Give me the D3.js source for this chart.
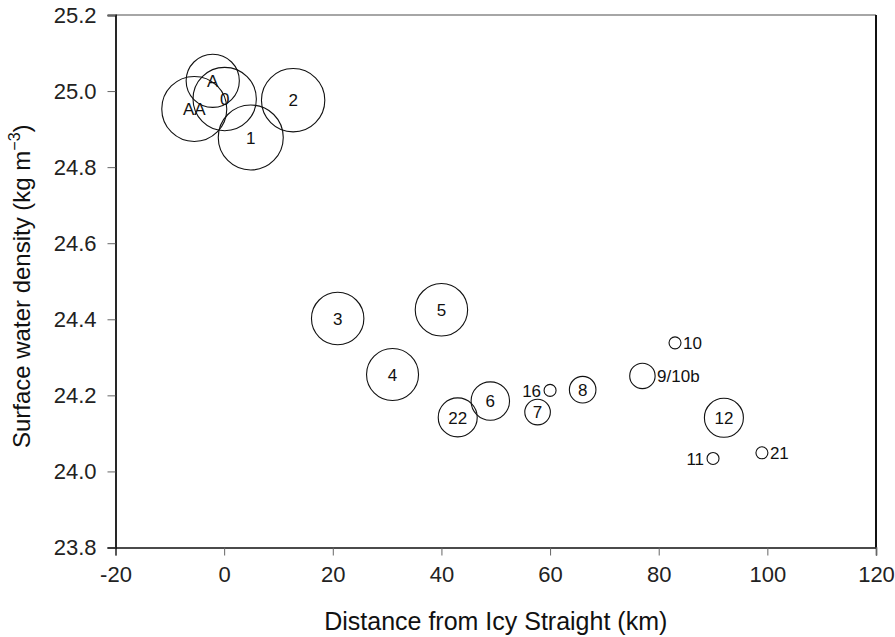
<!DOCTYPE html>
<meta charset="utf-8">
<style>
body { margin: 0; background: #fff; }
svg { font-family: "Liberation Sans", Arial, Helvetica, sans-serif; }
.tick text { fill: #222; }
</style>
<body>
<svg id="chart" width="895" height="637"></svg>
<script src="https://cdn.jsdelivr.net/npm/d3@7"></script>
<script>
// station labels, distance (km), density (kg m-3), bubble size
var stations = ["A", "0", "AA", "2", "1", "3", "5", "4", "22", "6", "16", "7", "8", "10", "9/10b", "12", "11", "21"];
var distance = [-2.1, 0.1, -5.5, 12.7, 4.9, 20.9, 40, 31, 43, 49, 60, 57.7, 66, 83, 77, 92, 90, 99];
var density = [25.027, 24.979, 24.953, 24.976, 24.878, 24.402, 24.425, 24.255, 24.142, 24.185, 24.213, 24.156, 24.215, 24.338, 24.251, 24.141, 24.034, 24.049];
var size = [67, 95, 100, 95, 100, 65, 65, 64, 36, 35, 3.4, 15.5, 16.7, 3.4, 15.3, 36, 3.4, 3.4];
// where the label goes: centre of bubble, left or right of it
var labelSide = ["c", "c", "c", "c", "c", "c", "c", "c", "c", "c", "l", "c", "c", "r", "r", "c", "l", "r"];

var xTicks = [-20, 0, 20, 40, 60, 80, 100, 120];
var yTicks = [23.8, 24.0, 24.2, 24.4, 24.6, 24.8, 25.0, 25.2];

var svg = d3.select("#chart");
var pLeft = 115.5, pRight = 876, pTop = 15, pBottom = 547.5;

var x = d3.scaleLinear().domain([-20, 120]).range([pLeft, pRight]);
var y = d3.scaleLinear().domain([23.8, 25.2]).range([pBottom, pTop]);
var r = d3.scaleSqrt().domain([0, 100]).range([0, 32.5]);

var data = stations.map(function (s, i) {
  return { name: s, x: distance[i], y: density[i], size: size[i], side: labelSide[i] };
});

// frame: top grey, right black
svg.append("line").attr("x1", pLeft).attr("x2", pRight).attr("y1", pTop).attr("y2", pTop)
  .attr("stroke", "#888").attr("stroke-width", 1.5);
svg.append("line").attr("x1", pRight).attr("x2", pRight).attr("y1", pTop).attr("y2", pBottom)
  .attr("stroke", "#111").attr("stroke-width", 2);

var xAxis = svg.append("g").attr("transform", "translate(0," + pBottom + ")")
  .call(d3.axisBottom(x).tickValues(xTicks).tickSize(8).tickPadding(11).tickFormat(function (d) { return String(d); }));
var yAxis = svg.append("g").attr("transform", "translate(" + pLeft + ",0)")
  .call(d3.axisLeft(y).tickValues(yTicks).tickSize(8).tickPadding(11).tickFormat(d3.format(".1f")));

[xAxis, yAxis].forEach(function (g) {
  g.attr("font-family", null).attr("font-size", 22);
  g.selectAll("text").attr("font-size", 22);
  g.selectAll(".tick line").attr("stroke", "#666");
  g.select(".domain").attr("stroke", "#111").attr("stroke-width", 1.8);
});
xAxis.select(".domain").attr("stroke-width", 1.5);

// bubbles
var pts = svg.append("g").selectAll("g").data(data).enter().append("g")
  .attr("transform", function (d) { return "translate(" + x(d.x) + "," + y(d.y) + ")"; });

pts.append("circle")
  .attr("r", function (d) { return r(d.size); })
  .attr("fill", "none")
  .attr("stroke", "#111")
  .attr("stroke-width", 1.1);

pts.append("text")
  .attr("font-size", 17)
  .attr("fill", "#111")
  .attr("dy", "0.36em")
  .attr("text-anchor", function (d) { return d.side == "l" ? "end" : d.side == "r" ? "start" : "middle"; })
  .attr("x", function (d) {
    if (d.side == "l") return -r(d.size) - 3;
    if (d.side == "r") return r(d.size) + 2;
    return 0;
  })
  .text(function (d) { return d.name; });

// axis titles
svg.append("text")
  .attr("x", (pLeft + pRight) / 2).attr("y", 630)
  .attr("text-anchor", "middle").attr("font-size", 25).attr("fill", "#111")
  .text("Distance from Icy Straight (km)");

var yt = svg.append("text")
  .attr("transform", "translate(30," + ((pTop + pBottom) / 2 + 5) + ") rotate(-90)")
  .attr("text-anchor", "middle").attr("font-size", 24).attr("fill", "#111");
yt.append("tspan").text("Surface water density (kg m");
yt.append("tspan").attr("font-size", 16).attr("dy", "-0.6em").text("\u22123");
yt.append("tspan").attr("dy", "0.4em").text(")");
</script>
</body>
